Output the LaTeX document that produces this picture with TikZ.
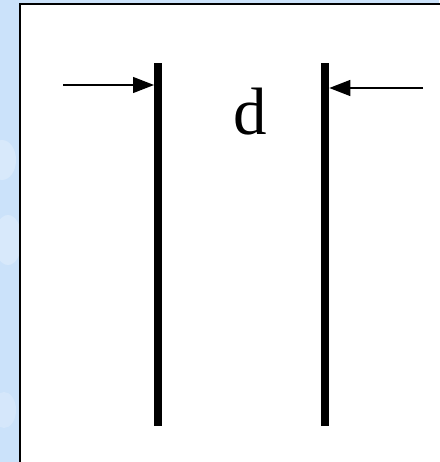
\documentclass[tikz,border=0pt]{standalone}
\usepackage{fontspec}
\setmainfont{Liberation Serif}
\usetikzlibrary{arrows.meta}
\definecolor{bgblue}{RGB}{203,226,250}
\tikzset{
  plate/.style={draw=none, fill=black, minimum width=8pt, minimum height=362pt, inner sep=0pt, outer sep=0pt},
  dimarrow/.style={line width=1.3pt, -{Triangle[length=21pt,width=16pt]}},
  frame/.style={line width=1.8pt, draw=black, fill=white}
}
\begin{document}
\begin{tikzpicture}[x=1pt,y=-1pt]
\useasboundingbox (0,0) rectangle (439,462);
\fill[bgblue] (0,0) rectangle (439,462);
\fill[white,opacity=0.25] (2,160) ellipse (14 and 20);
\fill[white,opacity=0.25] (8,240) ellipse (14 and 25);
\fill[white,opacity=0.2] (4,410) ellipse (12 and 18);
\draw[frame] (20,4) rectangle (460,480);
\node[plate] (L) at (158,244.5) {};
\node[plate] (R) at (325.3,244.5) {};
\coordinate (a) at (63,85);
\coordinate (b) at (423,88);
\draw[dimarrow] (a) -- (L.west |- a);
\draw[dimarrow] (b) -- (R.east |- b);
\node[font=\fontsize{67}{67}\selectfont, inner sep=0pt, anchor=base] (d) at (250,135) {d};
\end{tikzpicture}
\end{document}
